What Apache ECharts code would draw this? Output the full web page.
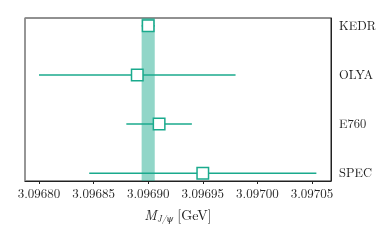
<!DOCTYPE html>
<html><head><meta charset="utf-8">
<script src="https://cdn.jsdelivr.net/npm/echarts@6/dist/echarts.min.js"></script>
<style>html,body{margin:0;padding:0;background:#fff}#c{width:390px;height:241px}</style>
</head><body><div id="c"></div>
<script>
const categories = ['KEDR', 'OLYA', 'E760', 'SPEC'];
const centers = [3.096900, 3.09689, 3.09691, 3.09695];
const errors = [0.000006, 0.00009, 0.00003, 0.000104];
const bandRange = [3.096894, 3.096906];
const xTicks = [3.09680, 3.09685, 3.09690, 3.09695, 3.09700, 3.09705];

const teal = '#1aaa8d';
const font = '"Latin Modern Roman","CMU Serif","DejaVu Serif",serif';
const chart = echarts.init(document.getElementById('c'));
const errData = centers.map((c, i) => [c - errors[i], c + errors[i], i]);
const ptData = centers.map((c, i) => [c, i]);
chart.setOption({
  animation: false,
  grid: {left: 25, right: 59, top: 18, bottom: 60, show: true, borderColor: '#222', borderWidth: 1, backgroundColor: 'transparent'},
  xAxis: [{
    type: 'value', min: 3.0967872, max: 3.0970674, position: 'bottom',
    axisLine: {show: true, onZero: false, lineStyle: {color: '#222', width: 1}},
    axisTick: {show: true, customValues: xTicks, length: 3, lineStyle: {color: '#222'}},
    axisLabel: {customValues: xTicks, formatter: v => v.toFixed(5), color: '#222', fontFamily: font, fontSize: 13, margin: 7},
    splitLine: {show: false},
    name: '{m|M}{s|J/ψ} {t|[GeV]}', nameLocation: 'middle', nameGap: 27,
    nameTextStyle: {
      color: '#222', fontFamily: font,
      rich: {
        m: {fontStyle: 'italic', fontSize: 14, fontFamily: font, color: '#222'},
        s: {fontStyle: 'italic', fontSize: 9, fontFamily: font, color: '#222', padding: [7, 0, 0, 0]},
        t: {fontSize: 14, fontFamily: font, color: '#222'}
      }
    }
  }],
  yAxis: [{
    type: 'value', min: -0.16, max: 3.16, inverse: true, position: 'right',
    axisLine: {show: true, onZero: false, lineStyle: {color: '#222', width: 1}},
    axisTick: {show: false},
    axisLabel: {customValues: [0, 1, 2, 3], formatter: v => categories[Math.round(v)] || '', color: '#222', fontFamily: font, fontSize: 12.5, margin: 8},
    splitLine: {show: false}
  }, {
    type: 'value', min: -0.16, max: 3.16, inverse: true, position: 'left',
    axisLine: {show: true, onZero: false, lineStyle: {color: '#999', width: 1.5}},
    axisTick: {show: false}, axisLabel: {show: false}, splitLine: {show: false}
  }],
  series: [{
    type: 'custom', xAxisIndex: 0, yAxisIndex: 0, z: 2,
    data: errData,
    encode: {x: [0, 1], y: 2},
    renderItem: (params, api) => {
      const a = api.coord([api.value(0), api.value(2)]);
      const b = api.coord([api.value(1), api.value(2)]);
      return {type: 'line', shape: {x1: a[0], y1: a[1], x2: b[0], y2: b[1]}, style: {stroke: teal, lineWidth: 1.5}};
    },
    markArea: {
      silent: true,
      itemStyle: {color: 'rgba(26,170,141,0.48)'},
      data: [[{xAxis: bandRange[0]}, {xAxis: bandRange[1]}]]
    }
  }, {
    type: 'scatter', xAxisIndex: 0, yAxisIndex: 0, z: 3,
    data: ptData, symbol: 'rect', symbolSize: 11.5,
    itemStyle: {color: '#fff', borderColor: teal, borderWidth: 1.5, opacity: 1}
  }]
});
</script></body></html>
